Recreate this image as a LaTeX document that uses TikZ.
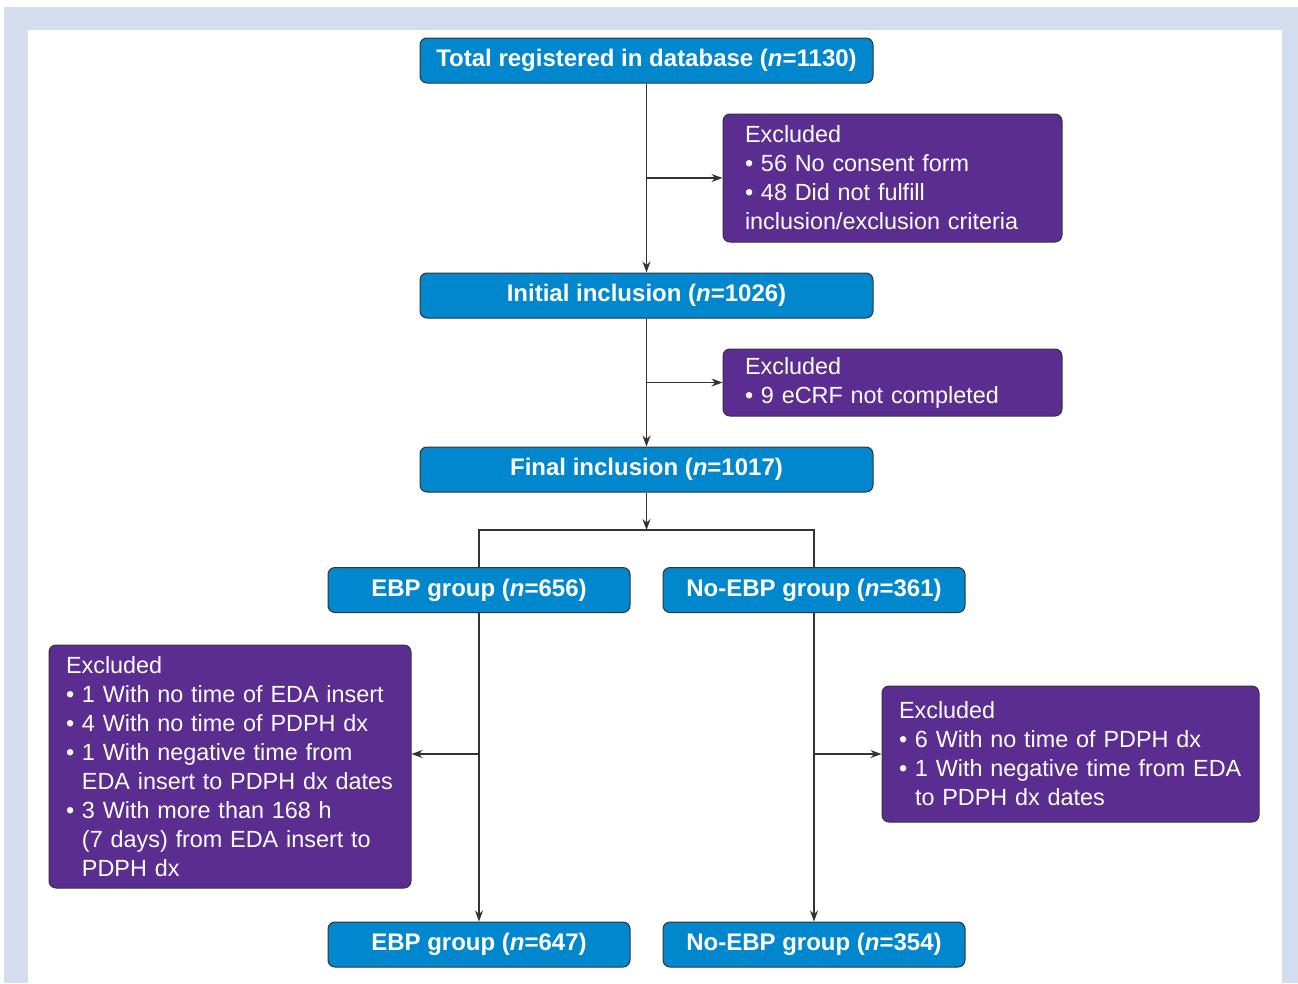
\documentclass[tikz,border=0pt]{standalone}
\usepackage{fontspec}
\setmainfont{Liberation Sans}
\usetikzlibrary{arrows.meta}
\definecolor{framec}{HTML}{D4DDEE}
\definecolor{boxblue}{HTML}{0087CD}
\definecolor{boxpurple}{HTML}{5B2D90}
\definecolor{edgec}{HTML}{333333}
\newcommand{\hang}{\phantom{\textbullet\ }}
\newcommand{\li}[1]{\mbox{#1}}
\begin{document}
\begin{tikzpicture}[x=1pt,y=-1pt,
  bluebox/.style={draw=edgec,line width=1pt,fill=boxblue,rounded corners=7pt,text=white,
    font=\fontsize{24}{28}\selectfont\bfseries,minimum width=453pt,minimum height=45pt,inner sep=0pt,
    text height=19pt,text depth=7pt},
  groupbox/.style={bluebox,minimum width=302pt},
  exbox/.style={draw=edgec,line width=1pt,fill=boxpurple,rounded corners=7pt,text=white,
    font=\fontsize{23.4}{29}\selectfont,align=left,inner xsep=0pt,inner ysep=0pt},
  arr/.style={draw=edgec,line width=1.2pt,-{Stealth[length=11pt,width=8pt]}},
  ln/.style={draw=edgec,line width=1.2pt}]
\useasboundingbox (0,0) rectangle (1298,983);
\fill[white] (0,0) rectangle (1298,983);
\fill[framec] (4,7) rectangle (1298,983);
\fill[white] (28,30) rectangle (1282,983);

\node[bluebox] (total) at (646.5,60.5) {Total registered in database (\textit{n}=1130)};
\node[exbox,minimum width=339pt,minimum height=128pt,text width=295pt] (ex1) at (892.5,178)
  {Excluded\\\li{\textbullet\ 56 No consent form}\\\li{\textbullet\ 48 Did not fulfill}\\\li{inclusion/exclusion criteria}};
\node[bluebox] (init) at (646.5,295.5) {Initial inclusion (\textit{n}=1026)};
\node[exbox,minimum width=339pt,minimum height=67pt,text width=295pt] (ex2) at (892.5,382.5)
  {Excluded\\\li{\textbullet\ 9 eCRF not completed}};
\node[bluebox] (final) at (646.5,469.5) {Final inclusion (\textit{n}=1017)};
\coordinate (split) at (646.5,530);
\node[groupbox] (ebp1) at (479,590) {EBP group (\textit{n}=656)};
\node[groupbox] (noebp1) at (814,590) {No-EBP group (\textit{n}=361)};
\node[exbox,minimum width=362pt,minimum height=243pt,text width=328pt] (exL) at (230,766.5)
  {Excluded\\\li{\textbullet\ 1 With no time of EDA insert}\\\li{\textbullet\ 4 With no time of PDPH dx}\\\li{\textbullet\ 1 With negative time from}\\\li{\hang EDA insert to PDPH dx dates}\\\li{\textbullet\ 3 With more than 168 h}\\\li{\hang (7 days) from EDA insert to}\\\li{\hang PDPH dx}};
\node[exbox,minimum width=377pt,minimum height=136pt,text width=343pt] (exR) at (1070.5,754)
  {Excluded\\\li{\textbullet\ 6 With no time of PDPH dx}\\\li{\textbullet\ 1 With negative time from EDA}\\\li{\hang to PDPH dx dates}};
\node[groupbox] (ebp2) at (479,944.5) {EBP group (\textit{n}=647)};
\node[groupbox] (noebp2) at (814,944.5) {No-EBP group (\textit{n}=354)};

\draw[arr] (total) -- (init);
\draw[arr] (total.south |- ex1.west) -- (ex1.west);
\draw[arr] (init) -- (final);
\draw[arr] (init.south |- ex2.west) -- (ex2.west);
\draw[arr] (final) -- (split);
\draw[ln] (ebp1.north) -- (ebp1.north |- split) -- (noebp1.north |- split) -- (noebp1.north);
\draw[arr] (ebp1) -- (ebp2);
\draw[arr] (noebp1) -- (noebp2);
\draw[arr] (ebp1.south |- exR.west) -- (exL.east |- exR.west);
\draw[arr] (noebp1.south |- exR.west) -- (exR.west);
\end{tikzpicture}
\end{document}
